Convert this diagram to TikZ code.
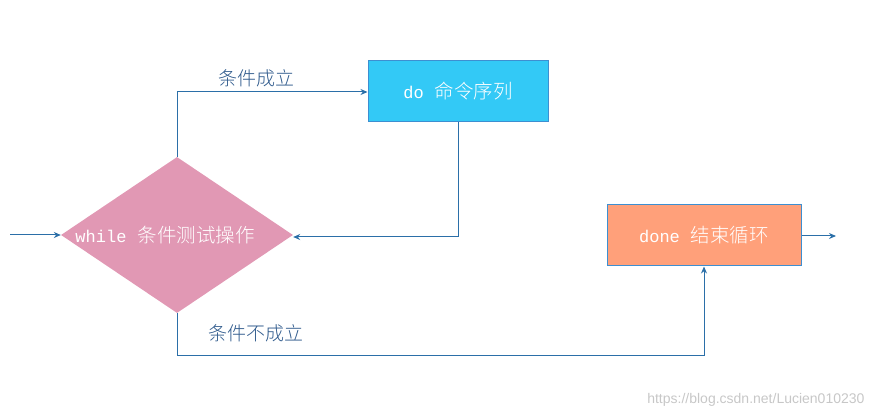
\documentclass[tikz,border=0pt]{standalone}
\usepackage{fontspec}
\setmonofont{Liberation Mono}
\newfontfamily\cjk{Noto Sans CJK SC Light}
\usetikzlibrary{shapes.geometric,arrows.meta}
\definecolor{linec}{HTML}{2B6FA8}
\definecolor{diamc}{HTML}{E198B4}
\definecolor{doc}{HTML}{33C9F6}
\definecolor{donec}{HTML}{FFA07A}
\definecolor{boxb}{HTML}{3D8FD1}
\definecolor{labc}{HTML}{2F5A8C}
\newcommand{\lat}[1]{{\ttfamily\fontsize{17}{20}\selectfont #1}}
\newcommand{\han}[1]{{\cjk\fontsize{19.5}{22}\selectfont #1}}
\newcommand{\gap}{\hspace{11pt}}
\begin{document}
\begin{tikzpicture}[x=1pt,y=-1pt,
  conn/.style={draw=linec,line width=1pt,-{Stealth[length=7pt,width=6pt]}},
  boxtext/.style={text=white},
  lab/.style={text=labc,font=\cjk\fontsize{19}{21}\selectfont}]
\useasboundingbox (0,0) rectangle (876,419);
\node[diamond,fill=diamc,minimum width=232pt,minimum height=156pt,inner sep=0pt,aspect=1.49] (w) at (177,235) {};
\node[boxtext] (wt) at (165,235) {\lat{while}\gap\han{条件测试操作}};
\node[draw=boxb,line width=1pt,fill=doc,minimum width=180pt,minimum height=61pt,inner sep=0pt,boxtext] (d) at (458,91.5) {\lat{do}\gap\han{命令序列}};
\node[draw=boxb,line width=1pt,fill=donec,minimum width=194pt,minimum height=61pt,inner sep=0pt,boxtext] (e) at (704,235.5) {\lat{done}\gap\han{结束循环}};
\coordinate (in) at (10,235);
\coordinate (out) at (836,236);
\coordinate (c1) at (177,92);
\coordinate (c2) at (458,237);
\coordinate (c3) at (177,356);
\coordinate (c4) at (704,356);
\draw[conn] (in) -- (w.west);
\draw[conn] (w.north) -- (c1) -- (c1 -| d.west);
\draw[conn] (d.south) -- (c2) -- (w.east |- c2);
\draw[conn] (w.south) -- (c3) -- (c4) -- (e.south);
\draw[conn] (e.east |- out) -- (out);
\node[lab] (l1) at (256,78) {条件成立};
\node[lab] (l2) at (256,333) {条件不成立};
\node[text=black!22,font=\fontspec{Liberation Sans}\fontsize{14}{16}\selectfont,anchor=east] (wm) at (868,400) {https://blog.csdn.net/Lucien010230};
\end{tikzpicture}
\end{document}
